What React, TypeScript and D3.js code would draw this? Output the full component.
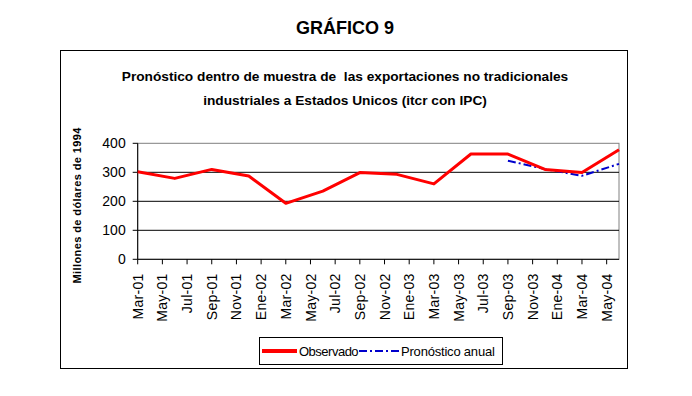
import React from "react";
import * as d3 from "d3";

// ---- data ----
const quarterDates: string[] = [
  "2001-03", "2001-06", "2001-09", "2001-12",
  "2002-03", "2002-06", "2002-09", "2002-12",
  "2003-03", "2003-06", "2003-09", "2003-12",
  "2004-03", "2004-06",
];
const observado: number[] = [302, 279, 310, 287, 193, 235, 299, 293, 260, 363, 363, 310, 299, 378];
const pronosticoDates: string[] = ["2003-09", "2003-12", "2004-03", "2004-06"];
const pronostico: number[] = [340, 311, 288, 329];
const tickLabels: string[] = [
  "Mar-01", "May-01", "Jul-01", "Sep-01", "Nov-01", "Ene-02", "Mar-02", "May-02",
  "Jul-02", "Sep-02", "Nov-02", "Ene-03", "Mar-03", "May-03", "Jul-03", "Sep-03",
  "Nov-03", "Ene-04", "Mar-04", "May-04",
];
const yTicks: number[] = [0, 100, 200, 300, 400];

const W = 692;
const H = 396;
const FONT = "'Liberation Sans', Arial, sans-serif";

const parse = (s: string) => {
  const [y, m] = s.split("-").map(Number);
  return new Date(y, m - 1, 1);
};

export default function App() {
  const start = parse(quarterDates[0]);
  const end = parse(quarterDates[quarterDates.length - 1]);
  const monthIdx = (d: Date) => d3.timeMonth.count(start, d);

  const left = 137.7, right = 619, top = 143.3, bottom = 259.3;
  const x = d3.scaleLinear().domain([0, monthIdx(end)]).range([left, right]);
  const y = d3.scaleLinear().domain([0, 400]).range([bottom, top]);

  const tickDates = d3.timeMonth.range(start, end, 2);

  const line = d3
    .line<[Date, number]>()
    .x((d) => x(monthIdx(d[0])))
    .y((d) => y(d[1]));

  const obsPath = line(quarterDates.map((q, i) => [parse(q), observado[i]] as [Date, number]));
  const fcPath = line(pronosticoDates.map((q, i) => [parse(q), pronostico[i]] as [Date, number]));

  return (
    <svg
      width={W}
      height={H}
      style={{ position: "absolute", left: 0, top: 0, background: "#fff" }}
      fontFamily={FONT}
    >
      <rect x={0} y={0} width={W} height={H} fill="#fff" />
      <text x={345} y={34} textAnchor="middle" fontSize={18} fontWeight="bold" fill="#000">
        GRÁFICO 9
      </text>
      {/* chart frame */}
      <rect x={60.5} y={50.5} width={567} height={318} fill="#fff" stroke="#000" strokeWidth={1} />
      <text x={345} y={81} textAnchor="middle" fontSize={13.7} fontWeight="bold" fill="#000" style={{ whiteSpace: "pre" }}>
        {"Pronóstico dentro de muestra de  las exportaciones no tradicionales"}
      </text>
      <text x={345} y={105} textAnchor="middle" fontSize={13.7} fontWeight="bold" fill="#000">
        industriales a Estados Unicos (itcr con IPC)
      </text>

      {/* plot area border */}
      <rect x={left} y={top} width={right - left} height={bottom - top} fill="#fff" stroke="#808080" strokeWidth={1} />
      {/* gridlines */}
      {yTicks.filter((t) => t > 0 && t < 400).map((t) => (
        <line key={t} x1={left} x2={right} y1={y(t)} y2={y(t)} stroke="#000" strokeWidth={1} />
      ))}
      {/* y axis */}
      <line x1={left} x2={left} y1={top} y2={bottom} stroke="#000" />
      {yTicks.map((t) => (
        <g key={t}>
          <line x1={left - 5} x2={left} y1={y(t)} y2={y(t)} stroke="#000" />
          <text x={left - 12} y={y(t)} dy="0.36em" textAnchor="end" fontSize={14} fill="#000">
            {t}
          </text>
        </g>
      ))}
      <text
        transform={`translate(81,${(top + bottom) / 2 + 4}) rotate(-90)`}
        textAnchor="middle"
        fontSize={11}
        fontWeight="bold"
        letterSpacing={0.4}
        fill="#000"
      >
        Millones de dólares de 1994
      </text>
      {/* x axis */}
      <line x1={left} x2={right} y1={bottom} y2={bottom} stroke="#000" />
      {tickDates.map((d, i) => (
        <g key={i}>
          <line x1={x(monthIdx(d))} x2={x(monthIdx(d))} y1={bottom} y2={bottom + 5} stroke="#000" />
          <text
            transform={`translate(${x(monthIdx(d))},${bottom + 14}) rotate(-90)`}
            textAnchor="end"
            dy="0.36em"
            fontSize={14}
            letterSpacing={0.3}
            fill="#000"
          >
            {tickLabels[i]}
          </text>
        </g>
      ))}

      {/* series */}
      <path d={fcPath ?? ""} fill="none" stroke="#0000CC" strokeWidth={2} strokeDasharray="8,3,2,3" />
      <path d={obsPath ?? ""} fill="none" stroke="#FF0000" strokeWidth={3} strokeLinejoin="round" />

      {/* legend */}
      <rect x={259.5} y={337.5} width={243} height={27} fill="#fff" stroke="#000" />
      <line x1={262} x2={297} y1={351} y2={351} stroke="#FF0000" strokeWidth={4} />
      <text x={299} y={351} dy="0.36em" fontSize={13} letterSpacing={-0.5} fill="#000">Observado</text>
      <line x1={359} x2={400} y1={351} y2={351} stroke="#0000CC" strokeWidth={2} strokeDasharray="8,3,2,3" />
      <text x={401} y={351} dy="0.36em" fontSize={13} letterSpacing={-0.2} fill="#000">Pronóstico anual</text>
    </svg>
  );
}
